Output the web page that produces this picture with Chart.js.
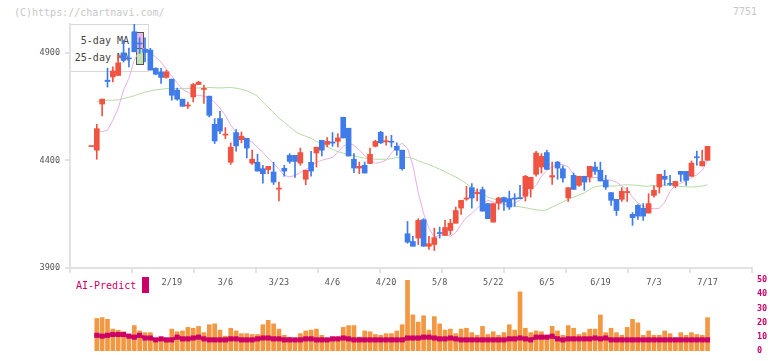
<!DOCTYPE html>
<html lang="ja">
<head>
<meta charset="UTF-8">
<title>7751</title>
<script src="https://cdn.jsdelivr.net/npm/chart.js@4"></script>
<style>
    body { margin: 0; background: #fff; }
    #wrap { position: relative; width: 772px; height: 361px; overflow: hidden; font-family: 'DejaVu Sans Mono', monospace; }
    .txt { position: absolute; white-space: nowrap; font-size: 10px; line-height: 10px; }
    #copy { left: 14px; top: 8px; color: #c8c8c8; }
    #code { right: 15px; top: 7px; color: #c8c8c8; }
    #legend { position: absolute; left: 70px; top: 24px; width: 79px; height: 48px; border: 1px solid #d8d8d8; box-sizing: border-box; }
    #legend .lt { position: absolute; right: 19px; color: #444; font-size: 10px; line-height: 10px; white-space: nowrap; }
    #legend .sw { position: absolute; left: 65px; width: 8px; height: 17px; border: 1px solid #555; box-sizing: border-box; }
    #aiLabel { left: 76px; top: 281px; color: #cc0066; }
    #aiBox { position: absolute; left: 142px; top: 277px; width: 7px; height: 16px; background: #cc0066; }
    canvas { position: absolute; left: 0; }
</style>
</head>
<body>
<div id="wrap">
    <div class="txt" id="copy">(C)https://chartnavi.com/</div>
    <div class="txt" id="code">7751</div>
    <!-- legend sits under the canvas, candles draw over it -->
    <div id="legend">
        <span class="lt" style="top:11px">5-day MA</span>
        <span class="lt" style="top:28px">25-day MA</span>
        <div class="sw" style="top:7px; background:#ecb8ec"></div>
        <div class="sw" style="top:23px; background:#bfe3b5"></div>
    </div>
    <div class="txt" id="aiLabel">AI-Predict</div>
    <div id="aiBox"></div>
    <canvas id="priceChart" width="772" height="361" style="top:0"></canvas>
    <canvas id="volChart" width="772" height="91" style="top:270px"></canvas>
</div>

<script>
    // daily candles (index 0 = oldest)
    const opens = [
        4464, 4447, 4661, 4772, 4787, 4794, 4899, 4875, 4997, 4944,
        4916, 4912, 4827, 4811, 4785, 4777, 4726, 4684, 4652, 4694,
        4752, 4729, 4698, 4567, 4594, 4517, 4391, 4529, 4496, 4502,
        4387, 4391, 4361, 4357, 4346, 4266, 4363, 4423, 4423, 4387,
        4312, 4391, 4434, 4493, 4474, 4485, 4488, 4600, 4549, 4405,
        4364, 4377, 4385, 4465, 4530, 4486, 4488, 4465, 4447, 4059,
        4023, 4039, 4124, 4001, 4009, 4064, 4051, 4074, 4108, 4178,
        4220, 4273, 4245, 4264, 4199, 4113, 4201, 4227, 4222, 4225,
        4227, 4233, 4268, 4335, 4369, 4436, 4322, 4392, 4361, 4225,
        4330, 4284, 4326, 4322, 4369, 4354, 4307, 4250, 4219, 4219,
        4250, 4149, 4191, 4177, 4155, 4237, 4276, 4326, 4293, 4281,
        4349, 4349, 4326, 4416, 4374, 4400
    ];
    const highs = [
        4464, 4567, 4684, 4828, 4834, 4888, 4958, 4921, 5036, 4969,
        4969, 4920, 4830, 4827, 4819, 4777, 4735, 4684, 4671, 4757,
        4767, 4749, 4698, 4594, 4628, 4552, 4481, 4543, 4532, 4502,
        4447, 4428, 4377, 4372, 4391, 4299, 4377, 4431, 4423, 4457,
        4354, 4442, 4461, 4493, 4506, 4529, 4524, 4600, 4549, 4431,
        4392, 4392, 4457, 4493, 4535, 4512, 4516, 4481, 4447, 4116,
        4047, 4129, 4129, 4047, 4085, 4090, 4121, 4126, 4183, 4214,
        4279, 4292, 4268, 4276, 4199, 4199, 4229, 4229, 4257, 4245,
        4284, 4330, 4321, 4442, 4431, 4447, 4392, 4395, 4374, 4273,
        4341, 4326, 4326, 4372, 4392, 4392, 4330, 4250, 4219, 4273,
        4273, 4157, 4194, 4199, 4245, 4281, 4335, 4354, 4330, 4302,
        4349, 4349, 4397, 4443, 4447, 4465
    ];
    const lows = [
        4464, 4405, 4606, 4740, 4764, 4794, 4856, 4834, 4904, 4896,
        4857, 4819, 4797, 4757, 4781, 4679, 4679, 4651, 4641, 4671,
        4752, 4664, 4601, 4478, 4524, 4501, 4381, 4443, 4481, 4411,
        4381, 4350, 4294, 4338, 4288, 4211, 4326, 4386, 4321, 4377,
        4287, 4326, 4369, 4420, 4462, 4465, 4462, 4504, 4420, 4343,
        4338, 4341, 4385, 4462, 4478, 4470, 4462, 4423, 4354, 4015,
        4001, 4009, 4001, 3986, 3981, 4039, 4051, 4056, 4108, 4149,
        4214, 4178, 4211, 4164, 4129, 4113, 4172, 4167, 4172, 4186,
        4222, 4211, 4229, 4326, 4341, 4358, 4288, 4312, 4299, 4209,
        4265, 4279, 4261, 4299, 4335, 4304, 4265, 4191, 4144, 4209,
        4209, 4098, 4126, 4121, 4155, 4229, 4248, 4284, 4284, 4273,
        4302, 4284, 4326, 4377, 4374, 4400
    ];
    const closes = [
        4464, 4547, 4684, 4766, 4815, 4853, 4865, 4871, 4904, 4940,
        4901, 4819, 4800, 4785, 4811, 4702, 4684, 4651, 4657, 4752,
        4763, 4734, 4609, 4490, 4536, 4522, 4461, 4467, 4512, 4457,
        4405, 4350, 4338, 4372, 4299, 4271, 4350, 4395, 4395, 4436,
        4354, 4350, 4461, 4447, 4488, 4480, 4504, 4504, 4420, 4364,
        4372, 4341, 4428, 4488, 4481, 4491, 4484, 4447, 4361, 4020,
        4001, 4121, 4001, 4013, 4041, 4060, 4088, 4108, 4167, 4214,
        4225, 4225, 4251, 4164, 4129, 4199, 4225, 4206, 4183, 4220,
        4222, 4326, 4321, 4434, 4419, 4358, 4329, 4364, 4318, 4273,
        4265, 4326, 4299, 4372, 4349, 4304, 4276, 4214, 4167, 4256,
        4255, 4134, 4141, 4141, 4199, 4261, 4335, 4312, 4288, 4302,
        4335, 4307, 4387, 4412, 4395, 4465
    ];

    // moving averages (start at index 1)
    const ma5 = [
        4540, 4533, 4540, 4586, 4642, 4726, 4781, 4865, 4912, 4921,
        4902, 4879, 4856, 4823, 4791, 4758, 4730, 4716, 4702, 4702,
        4698, 4688, 4670, 4642, 4609, 4563, 4530, 4516, 4498, 4484,
        4460, 4437, 4409, 4386, 4358, 4330, 4323, 4330, 4344, 4358,
        4372, 4391, 4400, 4407, 4414, 4437, 4465, 4479, 4470, 4447,
        4423, 4402, 4386, 4391, 4400, 4433, 4465, 4479, 4456, 4377,
        4251, 4153, 4084, 4044, 4051, 4058, 4047, 4065, 4102, 4135,
        4153, 4177, 4198, 4214, 4207, 4200, 4195, 4191, 4200, 4216,
        4233, 4260, 4284, 4326, 4353, 4370, 4379, 4381, 4369, 4335,
        4307, 4307, 4316, 4321, 4319, 4312, 4307, 4298, 4281, 4263,
        4228, 4202, 4186, 4179, 4175, 4177, 4205, 4256, 4284, 4293,
        4307, 4319, 4333, 4353, 4400
    ];
    const ma25 = [
        4674, 4677, 4679, 4679, 4681, 4686, 4693, 4700, 4709, 4716,
        4722, 4727, 4730, 4733, 4733, 4733, 4733, 4733, 4735, 4736,
        4737, 4738, 4737, 4736, 4737, 4738, 4735, 4730, 4723, 4712,
        4698, 4670, 4647, 4621, 4595, 4577, 4556, 4535, 4521, 4512,
        4502, 4488, 4477, 4464, 4451, 4440, 4433, 4426, 4421, 4415,
        4410, 4407, 4405, 4405, 4405, 4408, 4412, 4414, 4414, 4409,
        4398, 4388, 4380, 4370, 4359, 4347, 4335, 4322, 4309, 4291,
        4274, 4251, 4242, 4230, 4221, 4212, 4198, 4191, 4187, 4184,
        4180, 4175, 4170, 4167, 4170, 4183, 4195, 4207, 4219, 4229,
        4239, 4249, 4265, 4277, 4282, 4284, 4280, 4281, 4285, 4287,
        4285, 4284, 4280, 4280, 4283, 4284, 4284, 4284, 4281, 4279,
        4277, 4276, 4278, 4280, 4286
    ];

    // lower panel
    const volume = [
        null, 22.9, 23.5, 22.3, 15.4, 14.6, 13.5, 11.0, 17.9, 14.1,
        12.9, 12.9, 7.8, 7.8, 7.8, 15.4, 13.5, 14.1, 16.6, 16.0,
        17.3, 12.9, 18.5, 19.1, 14.7, 10.4, 16.0, 14.1, 12.2, 12.2,
        11.6, 11.6, 18.5, 21.6, 19.1, 15.4, 11.0, 9.7, 7.8, 12.2,
        14.1, 14.7, 15.4, 11.0, 7.8, 9.7, 9.7, 16.6, 17.9, 17.9,
        9.7, 14.1, 13.5, 11.6, 11.0, 12.2, 12.2, 14.1, 18.5, 49.9,
        25.4, 20.4, 24.8, 14.7, 24.2, 19.1, 14.7, 15.4, 12.2, 15.4,
        16.0, 12.9, 11.0, 17.3, 11.6, 13.5, 11.0, 12.9, 18.5, 14.7,
        41.7, 16.0, 12.9, 14.1, 13.5, 11.0, 17.3, 14.1, 11.0, 17.9,
        16.0, 11.6, 12.9, 15.4, 15.4, 25.4, 12.9, 16.0, 12.9, 11.0,
        16.6, 22.3, 19.8, 11.0, 14.1, 11.0, 11.0, 14.1, 12.2, 9.1,
        12.9, 11.0, 12.9, 11.6, 11.0, 23.5
    ];
    const aiPredict = [
        11.0, 10.4, 11.0, 11.6, 11.6, 11.6, 10.4, 9.7, 11.0, 9.1,
        9.1, 7.8, 8.5, 7.8, 7.8, 9.7, 8.5, 8.5, 9.1, 9.7,
        8.5, 7.8, 7.8, 7.8, 7.8, 8.5, 8.5, 7.8, 7.8, 7.8,
        8.5, 9.1, 9.1, 8.5, 8.5, 7.8, 7.8, 7.8, 7.8, 8.5,
        8.5, 7.8, 7.8, 7.8, 8.5, 8.5, 9.1, 8.5, 7.8, 7.8,
        7.8, 7.8, 7.8, 7.8, 7.8, 7.8, 7.8, 7.8, 9.1, 9.1,
        9.1, 9.7, 9.7, 9.1, 8.5, 8.5, 9.1, 8.5, 7.8, 7.8,
        7.8, 7.8, 7.8, 7.8, 7.8, 7.8, 7.8, 8.5, 8.5, 9.1,
        8.5, 7.8, 9.7, 9.7, 9.7, 10.4, 8.5, 7.8, 8.5, 8.5,
        8.5, 8.5, 8.5, 9.1, 8.5, 9.1, 7.8, 7.8, 7.8, 7.8,
        7.8, 7.8, 7.8, 7.8, 7.8, 7.8, 7.8, 7.8, 7.8, 7.8,
        7.8, 7.8, 7.8, 7.8, 7.8
    ];

    const dateLabels = ['2/19', '3/6', '3/23', '4/6', '4/20', '5/8', '5/22', '6/5', '6/19', '7/3', '7/17'];
    const labelIdx = [15, 25, 35, 45, 55, 65, 75, 85, 95, 105, 115];
    const priceTicks = [3900, 4400, 4900];

    const xMin = -4, xMax = 123.3;
    const RED = '#f05341', BLUE = '#3f7be9';
    const AXIS = '#e2e2e2';
    const tickFont = { family: 'DejaVu Sans Mono', size: 8.5 };

    const idx = closes.map((_, i) => i);
    const candleColors = idx.map(i => closes[i] >= opens[i] ? RED : BLUE);

    new Chart(document.getElementById('priceChart'), {
        type: 'bar',
        data: {
            datasets: [
                {
                    label: 'body',
                    data: idx.map(i => ({ x: i, y: [Math.min(opens[i], closes[i]), Math.max(opens[i], closes[i])] })),
                    backgroundColor: candleColors,
                    barThickness: 5,
                    minBarLength: 1,
                    grouped: false,
                    order: 1
                },
                {
                    label: 'wick',
                    data: idx.map(i => ({ x: i, y: [lows[i], highs[i]] })),
                    backgroundColor: candleColors,
                    barThickness: 1,
                    grouped: false,
                    order: 2
                },
                {
                    type: 'line',
                    label: '5-day MA',
                    data: ma5.map((v, i) => ({ x: i + 1, y: v })),
                    borderColor: '#e7aee7',
                    borderWidth: 1,
                    pointRadius: 0,
                    order: 3
                },
                {
                    type: 'line',
                    label: '25-day MA',
                    data: ma25.map((v, i) => ({ x: i + 1, y: v })),
                    borderColor: '#b2dba6',
                    borderWidth: 1,
                    pointRadius: 0,
                    order: 4
                }
            ]
        },
        options: {
            responsive: false,
            animation: false,
            layout: { padding: { left: 0, right: 20, top: 24, bottom: 0 } },
            plugins: { legend: { display: false }, tooltip: { enabled: false } },
            scales: {
                x: {
                    type: 'linear', min: xMin, max: xMax, offset: false,
                    afterBuildTicks: s => {
                        s.ticks = Array.from({ length: 12 }, (_, j) => ({ value: xMin + j * (xMax - xMin) / 11 }));
                    },
                    ticks: { display: false },
                    grid: { drawOnChartArea: false, offset: false, color: AXIS, lineWidth: 2, tickLength: 5 },
                    border: { color: AXIS, width: 2 },
                    afterFit: s => { s.height = 5; }
                },
                xd: {
                    type: 'linear', position: 'bottom', weight: 1, min: xMin, max: xMax, offset: false,
                    afterBuildTicks: s => { s.ticks = labelIdx.map(v => ({ value: v })); },
                    ticks: {
                        callback: (v, i) => dateLabels[i],
                        color: '#555', font: tickFont, maxRotation: 0, autoSkip: false, padding: 5
                    },
                    grid: { display: false, drawTicks: false, offset: false },
                    border: { display: false },
                    afterFit: s => { s.height = 88; }
                },
                y: {
                    min: 3900, max: 5033,
                    afterBuildTicks: s => { s.ticks = priceTicks.map(v => ({ value: v })); },
                    grid: { drawOnChartArea: false, color: AXIS, lineWidth: 2, tickLength: 5 },
                    border: { color: AXIS, width: 2 },
                    ticks: { color: '#555', font: tickFont, padding: 5, callback: v => String(v) },
                    afterFit: s => { s.width = 70; }
                }
            }
        }
    });

    new Chart(document.getElementById('volChart'), {
        type: 'bar',
        data: {
            datasets: [
                {
                    type: 'line',
                    label: 'AI-Predict',
                    data: aiPredict.map((v, i) => ({ x: i + 1, y: v })),
                    borderColor: '#cc0066',
                    backgroundColor: '#cc0066',
                    borderWidth: 3,
                    pointStyle: 'rect',
                    pointRadius: 1.5,
                    order: 1
                },
                {
                    label: 'volume',
                    data: idx.map(i => ({ x: i, y: volume[i] })),
                    backgroundColor: '#f39842',
                    barThickness: 4,
                    order: 2
                }
            ]
        },
        options: {
            responsive: false,
            animation: false,
            layout: { padding: { left: 70, right: 0, top: 9, bottom: 2.5 } },
            plugins: { legend: { display: false }, tooltip: { enabled: false } },
            scales: {
                x: { type: 'linear', min: xMin, max: xMax, offset: false, display: false },
                y: {
                    position: 'right', min: 0, max: 50,
                    ticks: { stepSize: 10, color: '#cc0066', font: { family: 'DejaVu Sans Mono', size: 8.5, weight: 'bold' }, padding: 5 },
                    grid: { display: false, drawTicks: false },
                    border: { display: false },
                    afterFit: s => { s.width = 20; }
                }
            }
        }
    });
</script>
</body>
</html>
